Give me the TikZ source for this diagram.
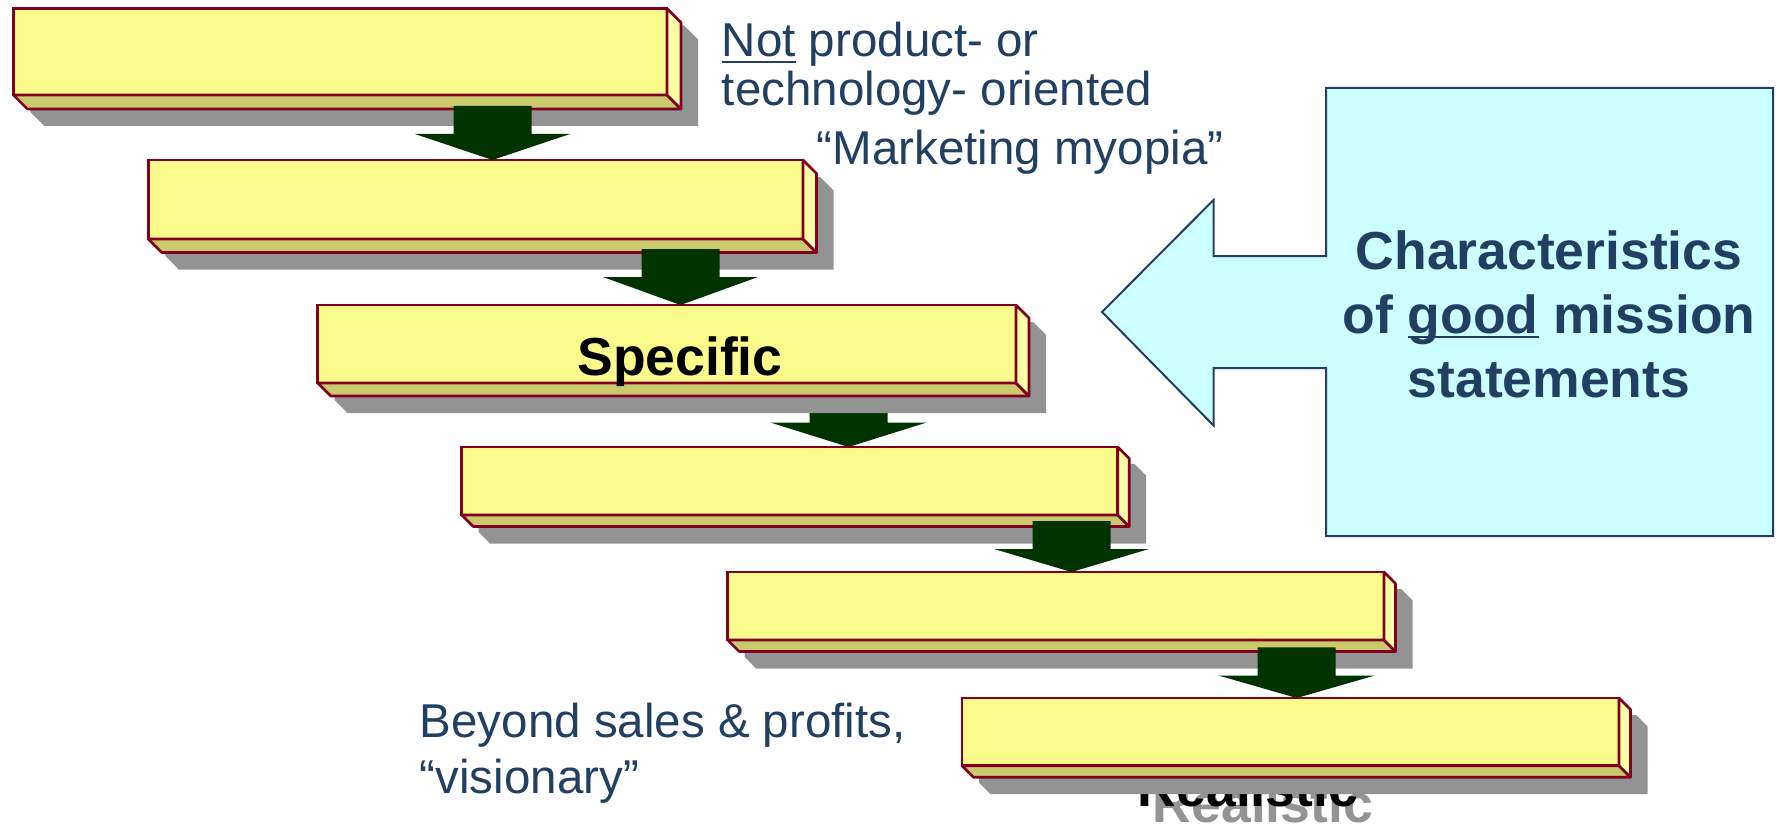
\documentclass[tikz,border=0pt]{standalone}
\usepackage{fontspec}
\setmainfont{Liberation Sans}
\usetikzlibrary{calc}

\definecolor{slabyellow}{RGB}{250,251,138}
\definecolor{slabolive}{RGB}{201,201,110}
\definecolor{slablight}{RGB}{255,255,168}
\definecolor{slabedge}{RGB}{128,0,32}
\definecolor{castgray}{RGB}{147,147,147}
\definecolor{darkgreen}{RGB}{0,51,0}
\definecolor{paleaqua}{RGB}{204,255,255}
\definecolor{navytext}{RGB}{33,63,99}

% underline with a rule placed at a given depth and thickness
\newcommand\ulrule[3]{\setbox0\hbox{#1}\rlap{\rule[-#2]{\wd0}{#3}}\box0\relax}

% a 3D slab: shadow, front face (named node), bottom and side faces
% #1 name, #2 x1, #3 y1, #4 x2, #5 y2, #6 depth
\newcommand\slab[6]{%
  \fill[castgray] (#2+17,#3+17) -- (#4+17,#3+17) -- (#4+#6+17,#3+#6+17)
    -- (#4+#6+17,#5+#6+17) -- (#2+#6+17,#5+#6+17) -- (#2+17,#5+17) -- cycle;
  \node[slabfront, anchor=north west, minimum width={#4-#2}, minimum height={#5-#3}] (#1) at (#2,#3) {};
  \filldraw[slabface, fill=slabolive] (#1.south west) -- (#1.south east) -- ++(#6,#6) -- ++({#2-#4},0) -- cycle;
  \filldraw[slabface, fill=slablight] (#1.north east) -- ++(#6,#6) -- ++(0,{#5-#3}) -- (#1.south east) -- cycle;
}

% a downward block arrow: #1 centre x, #2 shaft top, #3 head base, #4 tip
\newcommand\blockdown[4]{%
  \fill[darkgreen] (#1-39,#2) -- (#1+39,#2) -- (#1+39,#3) -- (#1+77.5,#3)
    -- (#1,#4) -- (#1-77.5,#3) -- (#1-39,#3) -- cycle;
}

\tikzset{
  slabfront/.style={draw=slabedge, fill=slabyellow, line width=2.6pt, inner sep=0pt, outer sep=0pt},
  slabface/.style={draw=slabedge, line width=2.6pt, line join=round},
  note/.style={text=navytext, font=\fontsize{47.5}{50}\selectfont, inner sep=0pt, anchor=base west},
  calltext/.style={text=navytext, font=\fontsize{53.5}{57}\selectfont\bfseries, inner sep=0pt, anchor=base},
  slabtext/.style={font=\fontsize{53.5}{57}\selectfont\bfseries, inner sep=0pt, anchor=base},
}

\begin{document}
\begin{tikzpicture}[x=1pt,y=-1pt]
  \useasboundingbox[fill=white] (0,0) rectangle (1777,829);

  % arrow partly hidden behind the third slab's shadow
  \blockdown{848.5}{396}{422.7}{447}

  % label of the last slab: grey shadow copy under the black text
  \node[slabtext, text=castgray] (realB) at (1263,822) {Realistic};
  \node[slabtext, text=black] (realA) at (1248,806) {Realistic};

  % the staircase of slabs
  \slab{b1}{13.4}{8.5}{667}{95}{14}
  \slab{b2}{148.3}{160}{803}{239}{13.5}
  \blockdown{492.5}{106}{134}{160}
  \slab{b3}{317.7}{305}{1016}{383}{13}
  \blockdown{680.5}{249}{277}{305}
  \node[slabtext, text=black] (spec) at (680,375) {Specific};
  \slab{b4}{461.7}{447}{1117.7}{515}{11.5}
  \slab{b5}{727.6}{572}{1384}{640}{11.5}
  \blockdown{1071.5}{521}{549}{572}
  \slab{b6}{962}{698}{1619}{765.7}{11.5}
  \blockdown{1296.7}{647.3}{675.7}{698}

  % side notes
  \node[note] (n1) at (721.7,57) {\ulrule{Not}{6.3pt}{2.6pt} product- or};
  \node[note] (n2) at (721.7,106) {technology- oriented};
  \node[note] (n3) at (816.7,165) {“Marketing myopia”};
  \node[note] (n4) at (419.6,737.3) {Beyond sales \& profits,};
  \node[note] (n5) at (419.6,793.3) {“visionary”};

  % callout pointing left
  \filldraw[fill=paleaqua, draw=navytext, line width=2pt, line join=miter]
    (1326,88) -- (1773,88) -- (1773,536) -- (1326,536) -- (1326,368)
    -- (1213.5,368) -- (1213.5,425.5) -- (1102,312) -- (1213.5,200)
    -- (1213.5,256) -- (1326,256) -- cycle;
  \node[calltext] (c1) at (1549,269) {Characteristics};
  \node[calltext] (c2) at (1549,333) {of \ulrule{good}{5.2pt}{2.4pt} mission};
  \node[calltext] (c3) at (1549,397) {statements};
\end{tikzpicture}
\end{document}
